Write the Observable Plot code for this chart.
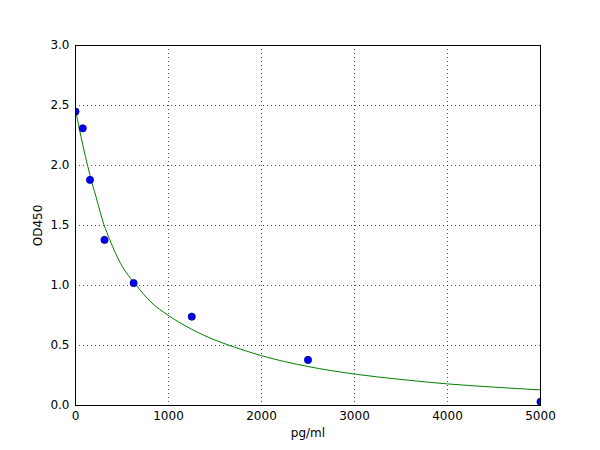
<!DOCTYPE html>
<html>
<head>
<meta charset="utf-8">
<script src="https://cdn.jsdelivr.net/npm/d3@7"></script>
<script src="https://cdn.jsdelivr.net/npm/@observablehq/plot@0.6"></script>
<style>
  html, body { margin: 0; padding: 0; background: #fff; }
  #chart { width: 600px; height: 450px; }
  svg { font-family: "DejaVu Sans", sans-serif; }
</style>
</head>
<body>
<div id="chart"></div>
<script>
// Measured standards
const concentrations = [0, 78, 156, 312, 625, 1250, 2500, 5000];
const odValues = [2.45, 2.31, 1.88, 1.38, 1.02, 0.74, 0.38, 0.03];

// Fitted curve
const curveX = [0, 40, 80, 133, 156, 220, 305, 369, 484, 656, 800, 1000, 1250, 1500, 1774, 2000, 2500, 3000, 3500, 4000, 4500, 5000];
const curveY = [2.47, 2.31, 2.165, 1.99, 1.918, 1.74, 1.51, 1.38, 1.185, 1.0, 0.87, 0.75, 0.635, 0.545, 0.47, 0.415, 0.325, 0.262, 0.217, 0.18, 0.153, 0.13];

const xTicks = [0, 1000, 2000, 3000, 4000, 5000];
const yTicks = [0, 0.5, 1.0, 1.5, 2.0, 2.5, 3.0];

const points = concentrations.map((x, i) => ({x, y: odValues[i]}));
const curve = curveX.map((x, i) => ({x, y: curveY[i]}));

const chart = Plot.plot({
  width: 600,
  height: 450,
  marginLeft: 75,
  marginRight: 60,
  marginTop: 45,
  marginBottom: 45,
  style: {fontFamily: "DejaVu Sans, sans-serif", fontSize: "12px", color: "#000", background: "#fff"},
  x: {domain: [0, 5000]},
  y: {domain: [0, 3]},
  marks: [
    Plot.gridX(xTicks, {stroke: "#000", strokeOpacity: 0.7, strokeDasharray: "1,3", strokeWidth: 1}),
    Plot.gridY(yTicks, {stroke: "#000", strokeOpacity: 0.7, strokeDasharray: "1,3", strokeWidth: 1}),
    Plot.axisX(xTicks, {tickSize: 0, tickPadding: 6, fontSize: 12, label: "pg/ml", labelAnchor: "center", labelArrow: "none", labelOffset: 31, tickFormat: d => String(d)}),
    Plot.axisY(yTicks, {tickSize: 0, tickPadding: 6, fontSize: 12, label: "OD450", labelAnchor: "center", labelArrow: "none", labelOffset: 42, tickFormat: d => d.toFixed(1)}),
    Plot.line(curve, {x: "x", y: "y", stroke: "#008000", strokeWidth: 1, curve: "monotone-x", clip: true}),
    Plot.dot(points, {x: "x", y: "y", r: 3.6, fill: "#0000ff", stroke: "#00007f", strokeWidth: 0.8, clip: true}),
    Plot.frame({stroke: "#000", strokeWidth: 1})
  ]
});
document.getElementById("chart").appendChild(chart);
</script>
</body>
</html>
